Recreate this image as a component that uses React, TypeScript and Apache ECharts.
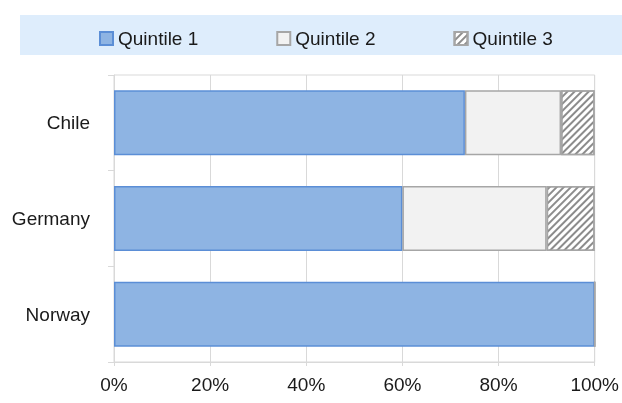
import React, { useEffect, useRef } from "react";
import * as echarts from "echarts";

const categories = ["Chile", "Germany", "Norway"];
const quintile1 = [73, 60, 100];
const quintile2 = [20, 30, 0];
const quintile3 = [7, 10, 0];
const seriesNames = ["Quintile 1", "Quintile 2", "Quintile 3"];
const xTicks = [0, 20, 40, 60, 80, 100];

const FONT = '"Liberation Sans", Arial, sans-serif';

export default function App() {
  const ref = useRef<HTMLDivElement>(null);
  useEffect(() => {
    if (!ref.current) return;
    const chart = echarts.init(ref.current, null, { renderer: "svg" });
    const grey = "#d9d9d9";
    chart.setOption({
      animation: false,
      textStyle: { fontFamily: FONT },
      graphic: [
        {
          type: "rect",
          z: -10,
          shape: { x: 20, y: 15, width: 602, height: 40 },
          style: { fill: "#deedfc" },
        },
      ],
      legend: {
        left: 99,
        top: 29,
        icon: "rect",
        itemWidth: 13,
        itemHeight: 13,
        itemGap: 78,
        padding: 0,
        data: seriesNames,
        textStyle: { fontSize: 19, color: "#1a1a1a", fontFamily: FONT },
      },
      grid: {
        left: 114,
        right: 27,
        top: 75,
        bottom: 41,
        show: true,
        borderColor: grey,
        borderWidth: 1,
        containLabel: false,
      },
      xAxis: {
        type: "value",
        min: xTicks[0],
        max: xTicks[xTicks.length - 1],
        interval: 20,
        axisLine: { show: true, lineStyle: { color: grey } },
        axisTick: { show: true, length: 4, lineStyle: { color: grey } },
        splitLine: { show: true, lineStyle: { color: grey } },
        axisLabel: {
          formatter: (v: number) => v + "%",
          fontSize: 19,
          color: "#1a1a1a",
          margin: 13,
          fontFamily: FONT,
        },
      },
      yAxis: {
        type: "category",
        data: categories,
        inverse: true,
        axisLine: { show: true, lineStyle: { color: grey } },
        axisTick: { show: true, length: 6, lineStyle: { color: grey } },
        splitLine: { show: false },
        axisLabel: { fontSize: 19, color: "#1a1a1a", margin: 24, fontFamily: FONT },
      },
      series: [
        {
          name: seriesNames[0],
          type: "bar",
          stack: "total",
          barCategoryGap: "32%",
          data: quintile1,
          itemStyle: { color: "#8eb4e3", borderColor: "#5b8ed6", borderWidth: 1.5 },
        },
        {
          name: seriesNames[1],
          type: "bar",
          stack: "total",
          data: quintile2,
          itemStyle: { color: "#f2f2f2", borderColor: "#a6a6a6", borderWidth: 1.5 },
        },
        {
          name: seriesNames[2],
          type: "bar",
          stack: "total",
          data: quintile3,
          itemStyle: {
            color: "#ffffff",
            borderColor: "#a6a6a6",
            borderWidth: 1.5,
            decal: {
              symbol: "rect",
              symbolSize: 1,
              color: "#8c8c8c",
              backgroundColor: "#ffffff",
              dashArrayX: [1, 0],
              dashArrayY: [1.5, 3],
              rotation: -Math.PI / 4,
            },
          },
        },
      ],
    });
    return () => chart.dispose();
  }, []);
  return (
    <div
      ref={ref}
      style={{ position: "fixed", left: 0, top: 0, width: 622, height: 403 }}
    />
  );
}
